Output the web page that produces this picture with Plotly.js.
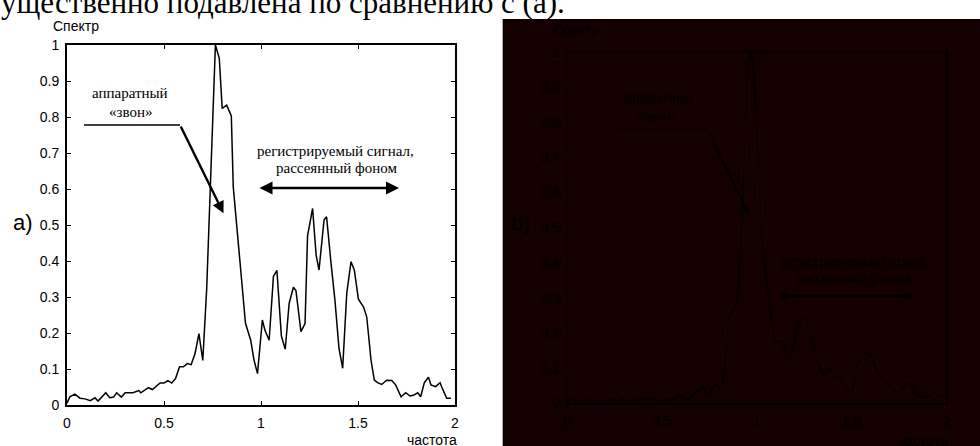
<!DOCTYPE html>
<html>
<head>
<meta charset="utf-8">
<script src="https://cdn.plot.ly/plotly-3.0.1.min.js"></script>
<style>
  html, body { margin: 0; padding: 0; background: #ffffff; }
  #chart { width: 980px; height: 446px; }
</style>
</head>
<body>
<div id="chart"></div>
<script>
// ---------- DATA ----------
// panel (a): spectrum with ringing peak and scattered signal
const freqA = [0, 0.015, 0.04, 0.067, 0.093, 0.12, 0.144, 0.16, 0.2, 0.22, 0.24, 0.256, 0.28, 0.30, 0.34, 0.37, 0.38, 0.42, 0.44, 0.46, 0.48, 0.50, 0.52, 0.54, 0.56, 0.58, 0.60, 0.62, 0.64, 0.66, 0.68, 0.70, 0.72, 0.765, 0.785, 0.80, 0.823, 0.847, 0.857, 0.92, 0.947, 0.964, 0.982, 1.007, 1.02, 1.042, 1.064, 1.082, 1.105, 1.125, 1.145, 1.167, 1.18, 1.206, 1.227, 1.24, 1.266, 1.284, 1.299, 1.325, 1.338, 1.361, 1.381, 1.402, 1.421, 1.442, 1.464, 1.481, 1.502, 1.528, 1.545, 1.567, 1.584, 1.601, 1.622, 1.648, 1.674, 1.694, 1.722, 1.746, 1.768, 1.785, 1.808, 1.823, 1.842, 1.863, 1.876, 1.9, 1.923, 1.935, 1.957, 1.979];
const specA = [0.005, 0.023, 0.03, 0.019, 0.017, 0.012, 0.02, 0.011, 0.034, 0.02, 0.022, 0.034, 0.022, 0.034, 0.034, 0.04, 0.034, 0.048, 0.043, 0.052, 0.061, 0.061, 0.068, 0.061, 0.074, 0.106, 0.106, 0.115, 0.112, 0.143, 0.198, 0.124, 0.322, 1.0, 0.963, 0.824, 0.833, 0.803, 0.606, 0.227, 0.18, 0.125, 0.087, 0.236, 0.208, 0.18, 0.357, 0.374, 0.192, 0.155, 0.282, 0.327, 0.318, 0.204, 0.226, 0.47, 0.546, 0.417, 0.375, 0.514, 0.523, 0.394, 0.292, 0.157, 0.102, 0.31, 0.398, 0.375, 0.294, 0.273, 0.245, 0.125, 0.069, 0.062, 0.057, 0.069, 0.068, 0.056, 0.023, 0.034, 0.025, 0.027, 0.034, 0.023, 0.062, 0.077, 0.056, 0.051, 0.062, 0.046, 0.019, 0.019];

// panel (b): spectrum after suppression
const freqB = [0, 0.025, 0.05, 0.08, 0.095, 0.13, 0.16, 0.19, 0.23, 0.26, 0.3, 0.33, 0.36, 0.39, 0.42, 0.45, 0.49, 0.52, 0.55, 0.57, 0.596, 0.62, 0.65, 0.68, 0.714, 0.737, 0.755, 0.781, 0.799, 0.82, 0.843, 0.86, 0.887, 0.904, 0.93, 0.962, 0.98, 1.0, 1.03, 1.06, 1.098, 1.133, 1.168, 1.18, 1.212, 1.233, 1.256, 1.291, 1.326, 1.353, 1.388, 1.409, 1.441, 1.467, 1.499, 1.52, 1.546, 1.581, 1.608, 1.635, 1.67, 1.705, 1.74, 1.761, 1.784, 1.805, 1.835, 1.87, 1.9, 1.925, 1.95, 1.977];
const specB = [0.0, 0.014, 0.006, 0.008, 0.012, 0.005, 0.008, 0.004, 0.012, 0.006, 0.013, 0.005, 0.009, 0.012, 0.012, 0.014, 0.007, 0.012, 0.008, 0.016, 0.022, 0.008, 0.014, 0.03, 0.047, 0.026, 0.026, 0.055, 0.043, 0.055, 0.18, 0.25, 0.275, 0.33, 0.63, 1.0, 0.975, 0.78, 0.47, 0.32, 0.18, 0.176, 0.123, 0.13, 0.209, 0.242, 0.239, 0.18, 0.114, 0.081, 0.104, 0.076, 0.071, 0.052, 0.028, 0.085, 0.128, 0.145, 0.133, 0.09, 0.071, 0.052, 0.033, 0.033, 0.057, 0.057, 0.03, 0.019, 0.019, 0.03, 0.026, 0.019];

// ticks and labels
const xTickVals = [0, 0.5, 1, 1.5, 2];
const xTickText = ['0', '0.5', '1', '1.5', '2'];
const yTickVals = [0, 0.1, 0.2, 0.3, 0.4, 0.5, 0.6, 0.7, 0.8, 0.9, 1];
const yTickText = ['0', '0.1', '0.2', '0.3', '0.4', '0.5', '0.6', '0.7', '0.8', '0.9', '1'];
const yAxisLabel = 'Спектр';
const xAxisLabel = 'частота';
const panelLabels = ['a)', 'b)'];
const ringLabel = ['аппаратный', '«звон»'];
const signalLabel = ['регистрируемый сигнал,', 'рассеянный фоном'];
const captionText = 'ущественно подавлена по сравнению с (а).';

// ---------- LAYOUT HELPERS ----------
const W = 980, H = 446;
const px = v => v / W;
const py = v => 1 - v / H;
const SANS = 'Liberation Sans, Arial, sans-serif';
const SERIF = 'Liberation Serif, Times New Roman, serif';
const BG_B = '#140000';

function axisX(domain, anchor, lw) {
  return {
    domain: domain, anchor: anchor, range: [0, 2],
    tickmode: 'array', tickvals: xTickVals, ticktext: xTickText,
    ticks: 'inside', ticklen: 4, tickwidth: 1, tickcolor: '#000',
    showline: true, linecolor: '#000', linewidth: lw, mirror: 'ticks',
    showgrid: false, zeroline: false, fixedrange: true,
    tickfont: { family: SANS, size: 14, color: '#000' },
    ticklabelstandoff: 4
  };
}
function axisY(domain, anchor, lw) {
  return {
    domain: domain, anchor: anchor, range: [0, 1],
    tickmode: 'array', tickvals: yTickVals, ticktext: yTickText,
    ticks: 'inside', ticklen: 4, tickwidth: 1, tickcolor: '#000',
    showline: true, linecolor: '#000', linewidth: lw, mirror: 'ticks',
    showgrid: false, zeroline: false, fixedrange: true,
    tickfont: { family: SANS, size: 14, color: '#000' },
    ticklabelstandoff: 3
  };
}

const traces = [
  { x: freqA, y: specA, xaxis: 'x', yaxis: 'y', type: 'scatter', mode: 'lines',
    line: { color: '#000', width: 1.5 }, hoverinfo: 'skip', cliponaxis: true },
  { x: freqB, y: specB, xaxis: 'x2', yaxis: 'y2', type: 'scatter', mode: 'lines',
    line: { color: '#000', width: 1.3, shape: 'spline', smoothing: 0.5 }, hoverinfo: 'skip', cliponaxis: true }
];

function txt(text, x, y, size, family, xref, yref, extra) {
  return Object.assign({
    text: text, x: x, y: y, xref: xref || 'paper', yref: yref || 'paper',
    showarrow: false, xanchor: 'center', yanchor: 'middle',
    font: { family: family, size: size, color: '#000' }
  }, extra || {});
}

const annotations = [
  // caption line (cut off at the top)
  txt(captionText, px(-1), py(-17), 31, SERIF, 'paper', 'paper', { xanchor: 'left', yanchor: 'top' }),
  // panel a
  txt(yAxisLabel, px(76), py(25.5), 14, SANS),
  txt(xAxisLabel, px(432), py(440), 14, SANS),
  txt(panelLabels[0], px(22.5), py(222), 22, SANS),
  txt(ringLabel[0], 0.325, 0.866, 15, SERIF, 'x', 'y'),
  txt(ringLabel[1], 0.325, 0.814, 15, SERIF, 'x', 'y'),
  txt(signalLabel[0], 1.384, 0.706, 15, SERIF, 'x', 'y'),
  txt(signalLabel[1], 1.392, 0.6575, 15, SERIF, 'x', 'y'),
  { x: 0.8067, y: 0.5325, ax: 0.5825, ay: 0.778, xref: 'x', yref: 'y', axref: 'x', ayref: 'y',
    text: '', showarrow: true, arrowhead: 2, arrowsize: 1, arrowwidth: 2.4, arrowcolor: '#000', standoff: 0, startstandoff: 0 },
  { x: 1.7113, y: 0.6028, ax: 0.9845, ay: 0.6028, xref: 'x', yref: 'y', axref: 'x', ayref: 'y',
    text: '', showarrow: true, arrowside: 'end+start', arrowhead: 2, startarrowhead: 2, arrowsize: 1, startarrowsize: 1,
    arrowwidth: 2.6, arrowcolor: '#000', standoff: 0, startstandoff: 0 },
  // panel b
  txt(yAxisLabel, px(575.5), py(30), 14, SANS),
  txt(xAxisLabel, px(922.5), py(441), 14, SANS),
  txt(panelLabels[1], px(521), py(222), 22, SANS),
  txt(ringLabel[0], 0.48, 0.87, 14, SERIF, 'x2', 'y2'),
  txt(ringLabel[1], 0.475, 0.816, 14, SERIF, 'x2', 'y2'),
  txt(signalLabel[0], 1.509, 0.405, 14, SERIF, 'x2', 'y2'),
  txt(signalLabel[1], 1.504, 0.357, 14, SERIF, 'x2', 'y2'),
  { x: 0.9567, y: 0.5365, ax: 0.7457, ay: 0.7786, xref: 'x2', yref: 'y2', axref: 'x2', ayref: 'y2',
    text: '', showarrow: true, arrowhead: 2, arrowsize: 1, arrowwidth: 1.6, arrowcolor: '#000', standoff: 0, startstandoff: 0 },
  { x: 1.8259, y: 0.3057, ax: 1.1135, ay: 0.3057, xref: 'x2', yref: 'y2', axref: 'x2', ayref: 'y2',
    text: '', showarrow: true, arrowside: 'end+start', arrowhead: 2, startarrowhead: 2, arrowsize: 1, startarrowsize: 1,
    arrowwidth: 1.6, arrowcolor: '#000', standoff: 0, startstandoff: 0 }
];

const shapes = [
  { type: 'rect', xref: 'paper', yref: 'paper', x0: px(503), x1: 1, y0: 0, y1: py(19),
    fillcolor: BG_B, line: { width: 0 }, layer: 'below' },
  { type: 'line', xref: 'paper', yref: 'paper', x0: px(502.5), x1: px(502.5), y0: 0, y1: py(19),
    line: { color: '#a8a8a8', width: 1 }, layer: 'below' },
  { type: 'line', xref: 'x', yref: 'y', x0: 0.0876, x1: 0.5825, y0: 0.778, y1: 0.778,
    line: { color: '#000', width: 1.5 } },
  { type: 'line', xref: 'x2', yref: 'y2', x0: 0.241, x1: 0.7457, y0: 0.7786, y1: 0.7786,
    line: { color: '#000', width: 1.2 } }
];

const layout = {
  width: W, height: H,
  margin: { l: 0, r: 0, t: 0, b: 0, pad: 0 },
  paper_bgcolor: '#ffffff',
  plot_bgcolor: 'rgba(0,0,0,0)',
  showlegend: false,
  xaxis: axisX([px(67), px(455)], 'y', 2),
  yaxis: axisY([py(405), py(45)], 'x', 2),
  xaxis2: axisX([px(567), px(946)], 'y2', 1.5),
  yaxis2: axisY([py(403.3), py(52.3)], 'x2', 1.5),
  annotations: annotations,
  shapes: shapes
};

Plotly.newPlot('chart', traces, layout, { staticPlot: true, displayModeBar: false });
</script>
</body>
</html>
